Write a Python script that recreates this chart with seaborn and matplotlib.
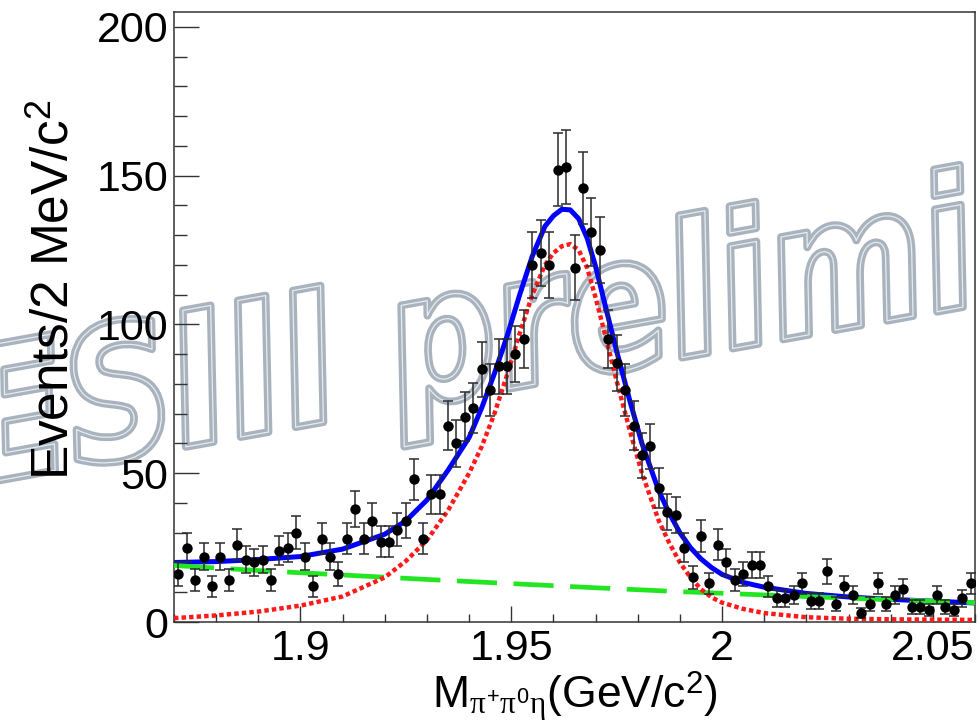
import numpy as np
import pandas as pd
import seaborn as sns
import matplotlib
matplotlib.use("Agg")
import matplotlib.pyplot as plt
from matplotlib.textpath import TextPath
from matplotlib.patches import PathPatch
from matplotlib.font_manager import FontProperties
from matplotlib.transforms import Affine2D, IdentityTransform
from matplotlib.ticker import MultipleLocator, FixedLocator, FixedFormatter

# ---------------- data ----------------
bin_lo, bin_width, n_bins = 1.870, 0.002, 95
counts = [16, 25, 14, 22, 12, 22, 14, 26, 21, 20,
          21, 14, 24, 25, 30, 22, 12, 28, 22, 16,
          28, 38, 28, 34, 27, 27, 31, 34, 48, 28,
          43, 43, 66, 60, 69, 72, 85, 78, 86, 86,
          90, 95, 120, 124, 120, 152, 153, 119, 146, 131,
          125, 95, 87, 78, 66, 56, 59, 45, 37, 36,
          25, 15, 29, 13, 26, 20, 14, 16, 19, 19,
          12, 8, 8, 9, 13, 7, 7, 17, 6, 12,
          9, 3, 6, 13, 6, 9, 11, 5, 5, 4,
          9, 5, 4, 8, 13]

fit_x = [1.870, 1.880, 1.890, 1.900, 1.910, 1.920, 1.925, 1.930, 1.935, 1.940,
         1.943, 1.946, 1.949, 1.952, 1.955, 1.958, 1.960, 1.962, 1.964, 1.966,
         1.968, 1.970, 1.972, 1.975, 1.978, 1.981, 1.985, 1.9875, 1.990, 1.9925,
         1.995, 1.9975, 2.000, 2.005, 2.010, 2.020, 2.030, 2.040, 2.050, 2.060]
total_fit = [20.0, 20.3, 21.0, 22.0, 24.5, 29.5, 34.0, 41.0, 51.0, 62.0,
             72.0, 83.5, 96.0, 110.0, 123.0, 133.0, 136.5, 138.7, 138.5, 135.5,
             129.0, 119.5, 108.0, 91.0, 75.0, 60.0, 44.0, 36.5, 30.0, 25.0,
             21.2, 18.3, 16.0, 13.3, 11.7, 9.6, 8.4, 7.6, 7.0, 6.4]
signal_fit = [1.3, 2.2, 3.5, 5.5, 8.6, 15.0, 20.5, 27.5, 37.5, 50.0,
              59.0, 70.0, 83.0, 97.0, 110.0, 120.0, 124.0, 126.3, 127.0, 125.0,
              119.0, 109.0, 98.0, 81.0, 65.0, 50.0, 34.0, 26.5, 20.0, 15.0,
              11.0, 8.3, 6.5, 4.4, 3.0, 1.6, 1.1, 0.9, 0.8, 0.7]
bkg_x = [1.87, 1.89, 1.91, 1.93, 1.95, 1.97, 1.99, 2.01, 2.03, 2.05, 2.06]
bkg_fit = [19.0, 17.3, 15.8, 14.3, 12.9, 11.5, 10.2, 9.1, 8.0, 7.0, 6.5]

x_ticks = [1.90, 1.95, 2.00, 2.05]
x_ticklabels = ["1.9", "1.95", "2", "2.05"]
y_ticks = [0, 50, 100, 150, 200]
y_ticklabels = ["0", "50", "100", "150", "200"]

bin_centers = bin_lo + bin_width * (np.arange(n_bins) + 0.5)
df = pd.DataFrame({"mass": bin_centers, "events": counts})
df["err"] = np.sqrt(df["events"])

# ---------------- style ----------------
sns.set_theme(style="ticks")
plt.rcParams["font.family"] = ["Liberation Sans", "DejaVu Sans"]
plt.rcParams["mathtext.fontset"] = "custom"
plt.rcParams["mathtext.rm"] = "Liberation Sans"
plt.rcParams["mathtext.it"] = "Liberation Serif"
plt.rcParams["mathtext.bf"] = "Liberation Sans:bold"
for k in ["text.color", "axes.labelcolor", "xtick.color", "ytick.color",
          "xtick.labelcolor", "ytick.labelcolor"]:
    plt.rcParams[k] = "black"

W, H, DPI = 980, 724, 100
fig = plt.figure(figsize=(W / DPI, H / DPI), dpi=DPI, facecolor="white")
ax = fig.add_axes([174 / W, 1 - 622 / H, (975 - 174) / W, (622 - 12) / H])
ax.patch.set_visible(False)

# ---------------- watermark ----------------
fp = FontProperties(family="DejaVu Sans", weight="bold", style="oblique")
tp = TextPath((0, 0), "BESIII preliminary", size=1, prop=fp)
wm_tr = Affine2D().scale(150, 185).rotate_deg(10.2).translate(-137, 219)
wm_path = wm_tr.transform_path(tp)
outer = PathPatch(wm_path, transform=IdentityTransform(), facecolor="none",
                  edgecolor="#a9b3be", lw=5.6, zorder=-2, joinstyle="round")
inner = PathPatch(wm_path, transform=IdentityTransform(), facecolor="none",
                  edgecolor="#e6ebef", lw=0.9, zorder=-1, joinstyle="round")
fig.add_artist(outer)
fig.add_artist(inner)

# ---------------- curves ----------------
sns.lineplot(x=fit_x, y=total_fit, ax=ax, color="#0000ff", lw=3.6,
             sort=False, estimator=None, zorder=2)
sns.lineplot(x=bkg_x, y=bkg_fit, ax=ax, color="#22e622", lw=3.4,
             sort=False, estimator=None, zorder=3)
ax.lines[-1].set_dashes((8.5, 3.5))
sns.lineplot(x=fit_x, y=signal_fit, ax=ax, color="#ff1a1a", lw=3.2,
             sort=False, estimator=None, zorder=3)
ax.lines[-1].set_dashes((1, 0.7))

# ---------------- data points ----------------
ax.errorbar(df["mass"], df["events"], yerr=df["err"], fmt="none",
            ecolor="#2a2a2a", elinewidth=1.1, capsize=3.5, capthick=1.1, zorder=4)
sns.scatterplot(data=df, x="mass", y="events", ax=ax, color="black", s=56,
                edgecolor="black", linewidth=0, zorder=5)

# ---------------- axes ----------------
ax.set_xlim(1.87, 2.06)
ax.set_ylim(0, 205)
ax.xaxis.set_major_locator(FixedLocator(x_ticks))
ax.xaxis.set_major_formatter(FixedFormatter(x_ticklabels))
ax.xaxis.set_minor_locator(MultipleLocator(0.01))
ax.yaxis.set_major_locator(FixedLocator(y_ticks))
ax.yaxis.set_major_formatter(FixedFormatter(y_ticklabels))
ax.yaxis.set_minor_locator(MultipleLocator(10))

for s in ax.spines.values():
    s.set_visible(True)
    s.set_color("#333333")
    s.set_linewidth(1.1)

ax.tick_params(axis="x", which="major", direction="in", length=11.5, width=1.0,
               color="#333333", labelcolor="black", labelsize=31, pad=5, top=False)
ax.tick_params(axis="x", which="minor", direction="in", length=5.5, width=1.0,
               color="#333333", top=False)
ax.tick_params(axis="y", which="major", direction="in", length=18, width=1.0,
               color="#333333", labelcolor="black", labelsize=31, pad=4, right=False)
ax.tick_params(axis="y", which="minor", direction="in", length=9, width=1.0,
               color="#333333", right=False)

ax.set_xlabel(r"M$_{\pi^{+}\pi^{0}\eta}$(GeV/c$^{2}$)", fontsize=32, labelpad=0,
              color="black")
ax.set_ylabel(r"Events/2 MeV/c$^{2}$", fontsize=37, color="black")
ax.yaxis.set_label_coords(-0.118, 0.544)
if ax.get_legend() is not None:
    ax.get_legend().remove()

fig.savefig("out.png", dpi=DPI, facecolor="white")
